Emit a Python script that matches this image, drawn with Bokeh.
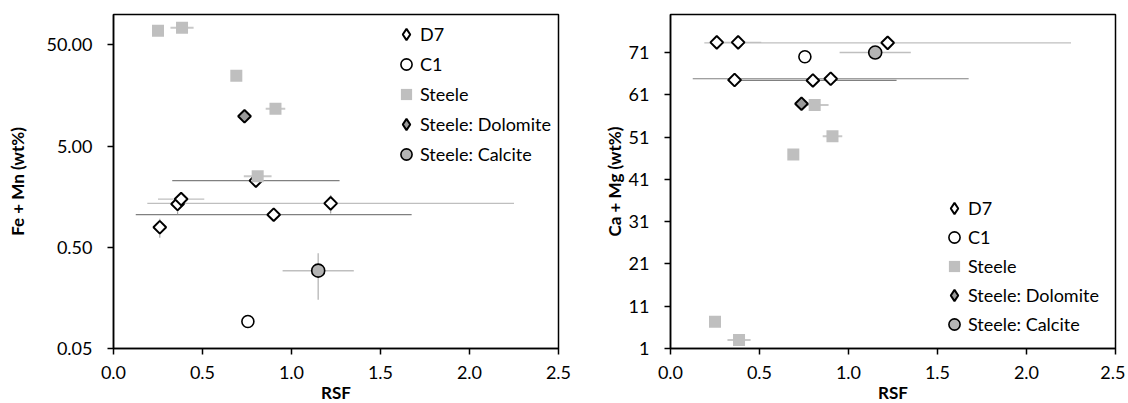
import math
from bokeh.plotting import figure
from bokeh.layouts import row
from bokeh.models import Range1d, FixedTicker, NumeralTickFormatter, Legend, LegendItem
from bokeh.embed import file_html
from bokeh.resources import INLINE

# ---------------- data ----------------
d7_rsf = [0.26, 0.36, 0.38, 0.80, 0.90, 1.22]
d7_rsf_err = [0.0, 0.04, 0.13, 0.47, 0.775, 1.03]
d7_femn = [0.79, 1.34, 1.50, 2.28, 1.05, 1.36]
d7_femn_err = [0.17, 0.28, 0.0, 0.30, 0.0, 0.28]
d7_camg = [73.4, 64.5, 73.4, 64.4, 64.8, 73.3]

c1_rsf = [0.755]
c1_femn = [0.0925]
c1_camg = [70.0]

steele_rsf = [0.25, 0.385, 0.69, 0.91, 0.81]
steele_rsf_err = [0.0, 0.065, 0.0, 0.055, 0.078]
steele_femn = [69.0, 74.0, 24.8, 11.7, 2.52]
steele_camg = [7.3, 3.0, 46.9, 51.2, 58.6]

dol_rsf = [0.736]
dol_femn = [9.86]
dol_camg = [58.9]

cal_rsf = [1.15]
cal_rsf_err = [0.2]
cal_femn = [0.294]
cal_femn_err = [0.142]
cal_camg = [71.0]

x_ticks = [0.0, 0.5, 1.0, 1.5, 2.0, 2.5]
femn_ticks = [0.05, 0.5, 5, 50]
camg_ticks = [1, 11, 21, 31, 41, 51, 61, 71]

# ---------------- styles ----------------
FONT = "Lato"
LIGHT = "#BFBFBF"
DARK = "#808080"
d7_err_colors = [DARK, DARK, LIGHT, DARK, DARK, LIGHT]
NAN = [float("nan")]


def make_fig(ylog, yrange, yticks, yfmt, ylabel, bl, br, label_standoff):
    p = figure(
        frame_width=445, frame_height=334,
        min_border_left=bl, min_border_right=br, min_border_top=14, min_border_bottom=54,
        y_axis_type="log" if ylog else "linear",
        x_range=Range1d(0, 2.5), y_range=Range1d(*yrange),
        output_backend="svg", toolbar_location=None,
        background_fill_color="white", border_fill_color="white",
    )
    p.grid.visible = False
    p.outline_line_color = "black"
    p.outline_line_width = 1.5
    for ax in (p.xaxis[0], p.yaxis[0]):
        ax.axis_line_color = "black"
        ax.axis_line_width = 1.5
        ax.major_tick_line_color = "black"
        ax.major_tick_line_width = 1.5
        ax.major_tick_out = 6
        ax.major_tick_in = 0
        ax.minor_tick_line_color = None
        ax.major_label_text_font = FONT
        ax.major_label_text_font_size = "18px"
        ax.major_label_text_color = "black"
        ax.axis_label_text_font = FONT
        ax.axis_label_text_font_style = "bold"
        ax.axis_label_text_font_size = "17px"
        ax.axis_label_text_color = "black"
    p.xaxis[0].ticker = FixedTicker(ticks=x_ticks)
    p.xaxis[0].formatter = NumeralTickFormatter(format="0.0")
    p.xaxis[0].axis_label = "RSF"
    p.xaxis[0].axis_label_standoff = 0
    p.xaxis[0].major_label_standoff = 11
    p.yaxis[0].ticker = FixedTicker(ticks=yticks)
    p.yaxis[0].formatter = NumeralTickFormatter(format=yfmt)
    p.yaxis[0].axis_label = ylabel
    p.yaxis[0].axis_label_standoff = label_standoff
    p.yaxis[0].major_label_standoff = 15
    return p


def add_series(p, y_d7, y_c1, y_st, y_dol, y_cal, y_d7_err, y_cal_err, legend_loc, spacing):
    # error bars
    p.segment([x - e for x, e in zip(d7_rsf, d7_rsf_err)], y_d7,
              [x + e for x, e in zip(d7_rsf, d7_rsf_err)], y_d7,
              line_color=d7_err_colors, line_width=1.2)
    if y_d7_err is not None:
        p.segment(d7_rsf, [y - e for y, e in zip(y_d7, y_d7_err)],
                  d7_rsf, [y + e for y, e in zip(y_d7, y_d7_err)],
                  line_color="#A6A6A6", line_width=1.2)
    p.segment([x - e for x, e in zip(steele_rsf, steele_rsf_err)], y_st,
              [x + e for x, e in zip(steele_rsf, steele_rsf_err)], y_st,
              line_color="#C8C8C8", line_width=2)
    p.segment([x - e for x, e in zip(cal_rsf, cal_rsf_err)], y_cal,
              [x + e for x, e in zip(cal_rsf, cal_rsf_err)], y_cal,
              line_color="#BFBFBF", line_width=1.5)
    if y_cal_err is not None:
        p.segment(cal_rsf, [y - e for y, e in zip(y_cal, y_cal_err)],
                  cal_rsf, [y + e for y, e in zip(y_cal, y_cal_err)],
                  line_color="#BFBFBF", line_width=1.5)

    # markers
    p.scatter(d7_rsf, y_d7, marker="square", angle=math.pi / 4, size=9,
              fill_color="white", line_color="black", line_width=2)
    r_c1 = p.scatter(c1_rsf, y_c1, marker="circle", size=12,
                     fill_color="white", line_color="black", line_width=1.6)
    r_st = p.scatter(steele_rsf, y_st, marker="square", size=12,
                     fill_color="#BFBFBF", line_color=None)
    p.scatter(dol_rsf, y_dol, marker="square", angle=math.pi / 4, size=9,
              fill_color="#9A9A9A", line_color="black", line_width=2)
    r_cal = p.scatter(cal_rsf, y_cal, marker="circle", size=13,
                      fill_color="#B4B4B4", line_color="black", line_width=1.6)

    # legend-only diamond glyphs (legend ignores marker rotation)
    l_d7 = p.scatter(NAN, NAN, marker="diamond", size=12,
                     fill_color="white", line_color="black", line_width=2)
    l_dol = p.scatter(NAN, NAN, marker="diamond", size=12,
                      fill_color="#9A9A9A", line_color="black", line_width=2)

    legend = Legend(
        items=[
            LegendItem(label="D7", renderers=[l_d7]),
            LegendItem(label="C1", renderers=[r_c1]),
            LegendItem(label="Steele", renderers=[r_st]),
            LegendItem(label="Steele: Dolomite", renderers=[l_dol]),
            LegendItem(label="Steele: Calcite", renderers=[r_cal]),
        ],
        location=legend_loc,
        background_fill_alpha=0, border_line_alpha=0,
        padding=0, margin=0, spacing=spacing,
        glyph_width=28, glyph_height=28, label_height=28,
        label_standoff=-2,
        label_text_font=FONT, label_text_font_size="18px", label_text_color="black",
    )
    p.add_layout(legend)


p1 = make_fig(True, (0.05, 100), femn_ticks, "0.00", "Fe + Mn (wt%)", 113, 42, 15)
add_series(p1, d7_femn, c1_femn, steele_femn, dol_femn, cal_femn,
           d7_femn_err, cal_femn_err, (279, 180), 2)

p2 = make_fig(False, (1, 80), camg_ticks, "0", "Ca + Mg (wt%)", 67, 10, 1)
add_series(p2, d7_camg, c1_camg, steele_camg, dol_camg, cal_camg,
           None, None, (270, 10), 1)

layout = row(p1, p2, spacing=0)
open("out.html", "w").write(file_html(layout, INLINE))
